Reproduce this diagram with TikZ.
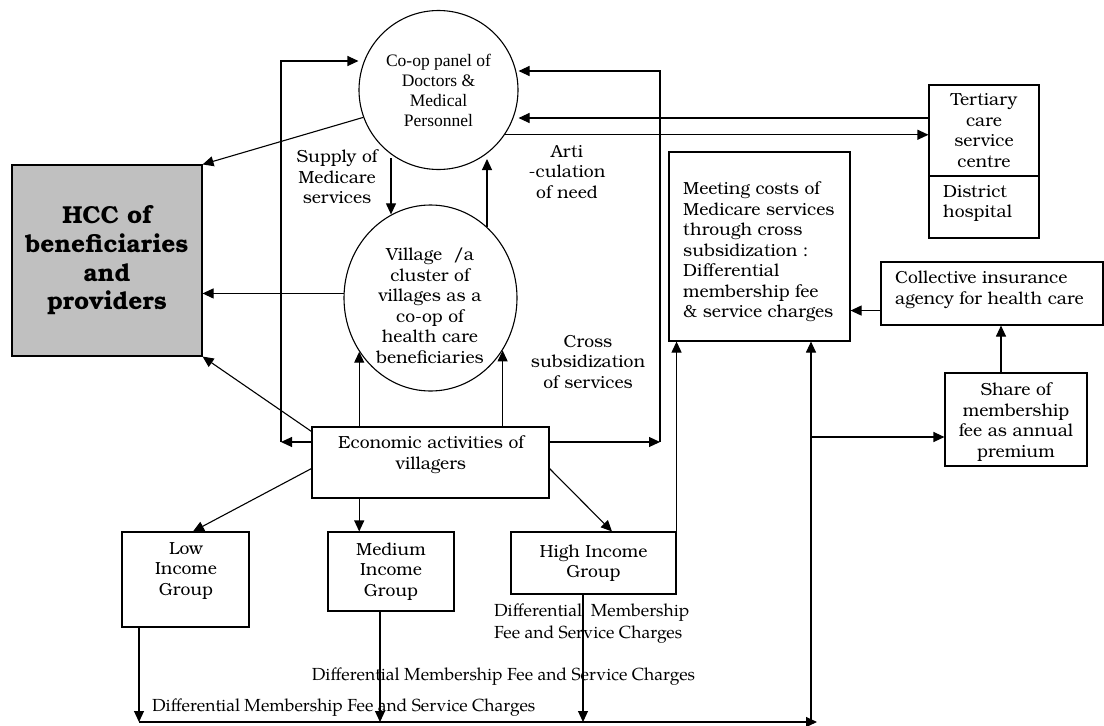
\documentclass[tikz,border=0pt]{standalone}
\usepackage{fontspec}
\usetikzlibrary{arrows.meta,shapes.geometric}
\newfontfamily\bonum{texgyrebonum}[Extension=.otf,UprightFont=*-regular,BoldFont=*-bold]
\newfontfamily\pagella{texgyrepagella}[Extension=.otf,UprightFont=*-regular]
\newfontfamily\timesrm{Liberation Serif}
\definecolor{hccgray}{HTML}{C0C0C0}
\tikzset{
  conn/.style={line width=1.1pt},
  arr/.style={conn,-{Triangle[length=11pt,width=10pt]}},
  box/.style={draw,line width=1.1pt,inner sep=0pt},
  txt/.style={inner sep=0pt,align=center,font=\bonum\fontsize{17.5}{20.5}\selectfont},
  ltxt/.style={txt,align=left},
  pal/.style={inner sep=0pt,align=left,font=\pagella\fontsize{17.5}{22}\selectfont},
}
\begin{document}
\begin{tikzpicture}[x=1pt,y=-1pt]
\useasboundingbox (0,0) rectangle (1104,726);

% main nodes
\node[box,fill=hccgray,minimum width=190pt,minimum height=191pt,align=center,
      font=\bonum\bfseries\fontsize{24.5}{28.7}\selectfont] (hcc) at (107,260.5)
      {HCC of\\beneficiaries\\and\\providers};
\node[box,circle,minimum size=159pt,align=center,
      font=\timesrm\fontsize{17.5}{20}\selectfont] (coop) at (438.5,90)
      {Co-op panel of\\Doctors \&\\Medical\\Personnel};
\node[box,ellipse,minimum width=173pt,minimum height=186pt] (village) at (430.5,298) {};
\node[txt] (villagetext) at (430,306)
      {Village~~/a\\cluster of\\villages as a\\co-op of\\health care\\beneficiaries};
\node[box,minimum width=237pt,minimum height=71pt] (econ) at (430.5,462.5) {};
\node[txt] (econtext) at (431,454.5) {Economic activities of\\villagers};
\node[box,minimum width=127pt,minimum height=95pt] (low) at (185.5,579.5) {};
\node[txt] (lowtext) at (186,571) {Low\\Income\\Group};
\node[box,minimum width=126pt,minimum height=79pt,txt] (med) at (391,571.5) {Medium\\Income\\Group};
\node[box,minimum width=165pt,minimum height=62pt,txt] (high) at (593.5,563) {High Income\\Group};
\node[box,minimum width=181pt,minimum height=189pt] (meet) at (759.5,246.5) {};
\node[ltxt,anchor=west] (meettext) at (683,252)
      {Meeting costs of\\Medicare services\\through cross\\subsidization :\\Differential\\membership fee\\\& service charges};
\node[box,minimum width=110pt,minimum height=91pt,txt] (tert) at (984,130.5)
      {Tertiary\\care\\service\\centre};
\node[box,minimum width=110pt,minimum height=62pt] (dhosp) at (984,207) {};
\node[ltxt,anchor=west] (dhosptext) at (943,203.5) {District\\hospital};
\node[box,minimum width=222pt,minimum height=63pt] (coll) at (992,293.5) {};
\node[ltxt,anchor=west] (colltext) at (895,290) {Collective insurance\\agency for health care};
\node[box,minimum width=142pt,minimum height=93pt] (share) at (1016,419.5) {};
\node[txt] (sharetext) at (1016,422) {Share of\\membership\\fee as annual\\premium};

% free labels
\node[txt] (supply) at (337,177) {Supply of\\Medicare\\services};
\node[txt] (artic) at (567,172) {Arti\\-culation\\of need};
\node[txt] (cross) at (588,362) {Cross\\subsidization\\of services};
\node[pal,anchor=west] (diffhigh) at (494,624) {Differential~~Membership\\Fee and Service Charges};
\node[pal] (diffmed) at (503.5,677) {Differential Membership Fee and Service Charges};
\node[pal,anchor=west] (difflow) at (152,708) {Differential Membership Fee and Service Charges};

% routing points
\coordinate (lt) at (281,61);
\coordinate (lb) at (281,442);
\coordinate (rt) at (660,71);
\coordinate (rb) at (660,442);
\coordinate (tA) at ([yshift=12.5pt]tert.west);
\coordinate (sT) at (391,158);
\coordinate (aT) at (487,159);
\coordinate (bL) at (139,722);
\coordinate (bR) at (817,722);
\coordinate (mX) at (380,722);
\coordinate (hX) at (583,722);
\coordinate (vX) at (811,722);
\coordinate (sB) at (811,437);
\coordinate (cX) at (1001,400);
\coordinate (cw) at ([yshift=15pt]coll.south west);

% side loops to the co-op panel
\draw[arr] (econ.west |- lb) -- (lb);
\draw[arr] (lb) -- (lt) -- (coop.west |- lt);
\draw[arr] (econ.east |- rb) -- (rb);
\draw[arr] (rb) -- (rt) -- (coop.east |- rt);

% tertiary care links
\draw[arr] (tA) -- (coop.east |- tA);
\draw[arr] (coop.-34) -- (tert.west |- coop.-34);

% towards the HCC
\draw[arr] (coop.200) -- (hcc.north east);
\draw[arr] (village.177) -- (hcc.east |- village.177);
\draw[arr] ([yshift=-5pt]econ.north west) -- (hcc.south east);

% between the panel and the village
\draw[arr] (sT) -- (sT |- village.115);
\draw[arr] (aT |- village.51) -- (aT);

% economic activities
\draw[arr] (econ.north -| village.217) -- (village.217);
\draw[arr] (econ.north -| village.-36) -- (village.-36);
\draw[arr] ([yshift=30pt]econ.south west) -- ([xshift=7.5pt]low.north);
\draw[arr] (econ.south -| village.217) -- (med.north -| village.217);
\draw[arr] ([yshift=30pt]econ.south east) -- ([xshift=18.5pt]high.north);

% fees and charges
\draw[arr] (high.north east) -- (high.north east |- meet.south);
\draw[arr] (low.south -| bL) -- (bL);
\draw[arr] (med.south -| mX) -- (mX);
\draw[arr] (high.south -| hX) -- (hX);
\draw[arr] (bL) -- (bR);
\draw[arr] (vX) -- (vX |- meet.south);
\draw[arr] (sB) -- (share.west |- sB);
\draw[arr] (share.north -| cX) -- (coll.south -| cX);
\draw[arr] (cw) -- (meet.east |- cw);
\end{tikzpicture}
\end{document}
